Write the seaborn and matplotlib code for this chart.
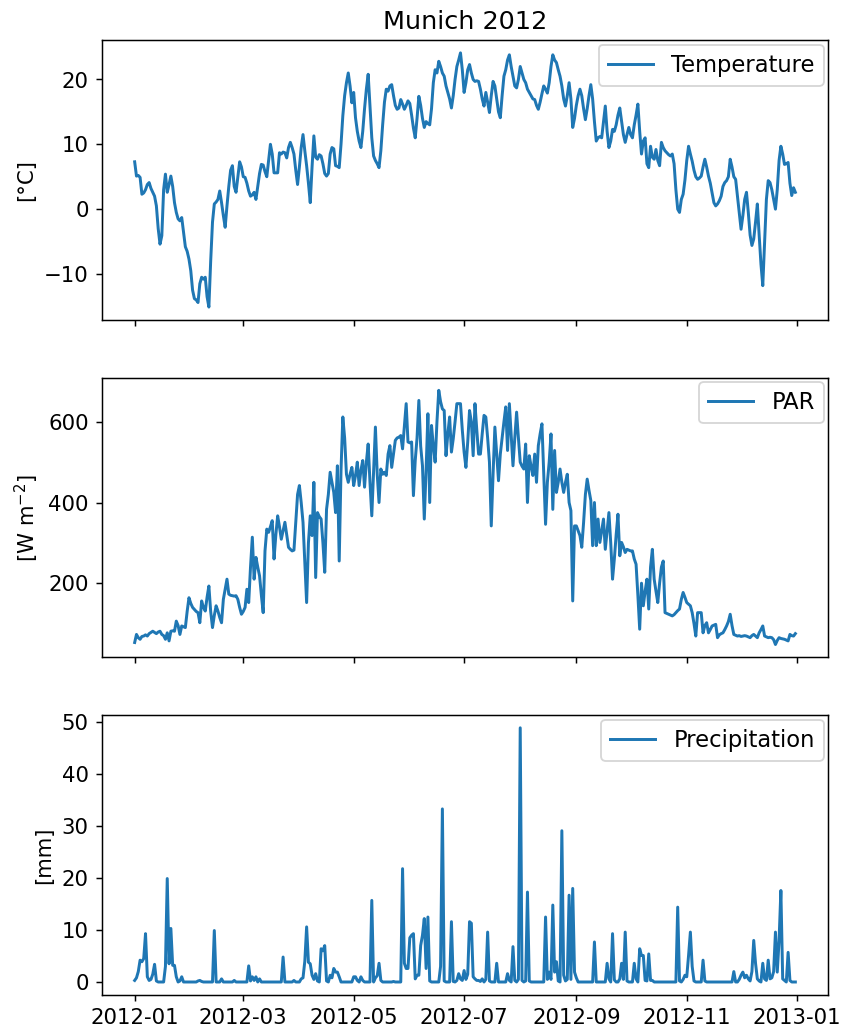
import numpy as np
import pandas as pd
import matplotlib
matplotlib.use("Agg")
import matplotlib.pyplot as plt
import matplotlib.dates as mdates
import matplotlib.ticker as mticker
import seaborn as sns

start_date = "2012-01-01"
n_days = 366

temperature = [
    7.3, 5.1, 5.2, 4.9, 2.3, 2.5, 3.0, 3.8, 4.1, 3.2,
    2.6, 2.0, 0.5, -3.0, -5.4, -4.1, 3.0, 5.4, 2.6, 3.8,
    5.1, 3.5, 1.0, -0.5, -1.5, -1.8, -1.3, -3.5, -5.8, -6.5,
    -7.7, -9.5, -12.5, -13.8, -14.0, -14.4, -11.5, -10.5, -10.8, -10.5,
    -13.5, -15.1, -8.0, -2.0, 0.8, 1.1, 1.5, 2.8, 1.0, -1.0,
    -2.8, 0.5, 3.5, 6.0, 6.7, 3.5, 2.6, 5.0, 7.3, 6.5,
    5.0, 4.9, 4.0, 2.8, 2.0, 2.2, 2.6, 1.5, 3.5, 5.5,
    6.9, 6.8, 5.8, 5.0, 7.5, 10.0, 8.5, 5.6, 5.6, 5.6,
    8.7, 8.5, 8.8, 8.7, 7.9, 9.5, 10.3, 9.5, 8.5, 6.0,
    3.8, 6.5, 9.5, 11.5, 9.0, 6.7, 4.0, 1.0, 6.5, 11.3,
    8.0, 7.7, 8.4, 8.2, 7.0, 5.5, 5.1, 5.5, 8.5, 9.5,
    9.3, 6.7, 6.6, 6.4, 10.0, 14.4, 17.5, 19.5, 21.0, 19.0,
    16.4, 18.0, 14.1, 12.0, 10.5, 9.5, 12.0, 15.5, 18.5, 20.8,
    16.0, 11.0, 8.2, 7.5, 7.0, 6.4, 9.0, 13.0, 16.5, 18.5,
    18.2, 19.0, 19.2, 17.5, 16.0, 15.4, 15.6, 16.9, 16.2, 15.4,
    16.0, 16.7, 16.3, 14.5, 12.5, 11.0, 14.0, 17.4, 16.0, 14.0,
    12.6, 13.5, 13.2, 13.0, 15.5, 19.5, 21.5, 21.0, 22.8, 22.0,
    21.0, 20.5, 19.0, 18.0, 17.0, 15.6, 17.5, 20.0, 22.0, 23.0,
    24.1, 21.5, 18.0, 19.5, 21.5, 22.3, 21.0, 20.0, 19.7, 19.8,
    19.7, 18.5, 17.0, 15.9, 18.0, 16.5, 14.9, 17.5, 19.7, 19.0,
    17.0, 15.0, 14.1, 17.5, 20.5, 21.5, 23.0, 23.8, 22.0, 20.5,
    19.0, 18.7, 20.0, 22.0, 21.0, 20.0, 19.5, 18.5, 18.0, 17.5,
    17.0, 16.9, 16.0, 15.4, 16.5, 17.8, 19.0, 18.5, 17.9, 19.5,
    22.0, 23.8, 23.0, 22.6, 21.5, 20.5, 19.0, 17.0, 15.9, 17.5,
    19.5, 17.0, 12.6, 14.0, 16.0, 17.5, 18.5, 17.5, 15.5, 13.8,
    15.5, 17.5, 19.2, 17.0, 13.5, 10.5, 11.0, 11.2, 11.0, 13.5,
    15.9, 12.0, 9.5, 10.5, 12.3, 12.0, 13.0, 14.5, 15.6, 13.5,
    11.5, 10.3, 11.5, 12.6, 11.5, 11.0, 13.0, 14.5, 16.2, 12.0,
    8.5, 10.5, 11.0, 7.0, 6.4, 9.7, 8.0, 7.7, 9.2, 7.5,
    6.7, 10.3, 9.5, 9.0, 8.7, 8.4, 8.2, 8.5, 7.0, 3.0,
    0.0, -0.5, 1.5, 2.3, 4.5, 7.5, 9.7, 8.5, 7.4, 6.0,
    5.0, 4.6, 4.8, 5.1, 6.5, 7.7, 6.5, 5.1, 4.0, 2.5,
    1.0, 0.5, 0.8, 1.3, 2.0, 3.5, 4.1, 4.4, 5.0, 7.7,
    6.5, 5.0, 4.6, 2.0, -0.5, -3.1, -1.0, 1.5, 2.6, -0.5,
    -4.0, -5.6, -4.6, -2.0, 0.8, -4.0, -8.5, -11.8, -5.0, 1.5,
    4.4, 4.1, 3.0, 1.5, 0.0, 3.0, 7.5, 9.7, 8.5, 6.9,
    7.0, 7.2, 4.0, 2.1, 3.3, 2.6,
]

par = [
    53, 73, 65, 61, 68, 69, 72, 69, 75, 78,
    81, 78, 75, 79, 81, 73, 70, 61, 77, 57,
    81, 82, 81, 106, 95, 73, 94, 92, 90, 130,
    164, 150, 140, 135, 130, 127, 102, 156, 140, 131,
    165, 193, 130, 90, 120, 144, 131, 115, 102, 160,
    185, 210, 173, 170, 169, 168, 169, 160, 140, 123,
    130, 140, 185, 152, 240, 314, 210, 264, 240, 218,
    170, 127, 280, 334, 326, 340, 355, 260, 320, 367,
    340, 309, 330, 351, 320, 289, 284, 280, 282, 350,
    420, 442, 400, 351, 250, 152, 300, 367, 318, 450,
    214, 375, 365, 359, 300, 227, 383, 420, 475, 450,
    425, 375, 491, 255, 480, 612, 560, 470, 450, 470,
    487, 442, 467, 500, 442, 480, 504, 438, 500, 545,
    450, 367, 480, 587, 470, 400, 483, 470, 475, 467,
    520, 541, 487, 520, 554, 560, 562, 566, 533, 590,
    645, 550, 548, 550, 417, 504, 560, 653, 540, 491,
    359, 480, 620, 400, 591, 540, 500, 600, 678, 650,
    632, 628, 516, 570, 612, 525, 558, 600, 645, 645,
    645, 580, 525, 487, 550, 628, 600, 516, 645, 580,
    520, 520, 570, 616, 612, 560, 500, 342, 470, 587,
    520, 454, 520, 560, 600, 637, 529, 645, 570, 491,
    560, 624, 560, 500, 490, 483, 545, 400, 516, 490,
    467, 520, 450, 541, 570, 595, 470, 346, 450, 500,
    570, 383, 529, 425, 450, 483, 450, 425, 450, 470,
    400, 380, 156, 342, 342, 330, 318, 289, 350, 420,
    458, 430, 405, 293, 400, 293, 359, 301, 330, 359,
    284, 330, 375, 300, 210, 260, 320, 371, 268, 301,
    290, 276, 284, 282, 280, 280, 260, 247, 170, 86,
    200, 144, 180, 210, 136, 240, 284, 210, 180, 152,
    200, 240, 255, 127, 125, 123, 121, 119, 122, 127,
    132, 136, 160, 177, 165, 152, 148, 144, 127, 100,
    69, 127, 127, 127, 77, 95, 102, 77, 85, 94,
    96, 98, 65, 72, 75, 77, 85, 94, 105, 123,
    95, 73, 71, 69, 70, 68, 69, 70, 69, 67,
    65, 70, 73, 69, 65, 77, 85, 94, 69, 67,
    65, 66, 65, 60, 48, 58, 65, 63, 62, 61,
    59, 57, 73, 70, 69, 75,
]

precipitation = [
    0.3, 0.8, 2.0, 4.2, 3.9, 4.5, 9.3, 1.0, 0.3, 0.5,
    1.5, 3.4, 0.2, 0, 0, 0, 0, 3.0, 19.9, 3.5,
    10.3, 3.2, 3.2, 1.0, 0, 0.2, 1.0, 0, 0, 0,
    0, 0, 0, 0, 0, 0.2, 0.3, 0.1, 0, 0,
    0, 0, 0, 0, 9.9, 0, 0, 0, 0.6, 0,
    0, 0, 0, 0, 0, 0.3, 0, 0, 0, 0,
    0, 0, 0, 3.1, 0.2, 1.0, 0.3, 1.0, 0, 0.6,
    0, 0, 0, 0, 0, 0, 0, 0, 0, 0,
    0, 0, 4.8, 0, 0, 0, 0, 0, 0.3, 0,
    0, 0, 0.6, 0.8, 4.0, 10.6, 3.8, 3.5, 1.3, 0.5,
    1.6, 0.2, 0, 6.4, 6.0, 7.0, 0.2, 0, 1.3, 0.8,
    2.6, 1.9, 1.9, 1.0, 0, 0, 0, 0, 0, 0,
    0, 1.0, 1.0, 0.3, 0, 1.0, 0.3, 0, 0, 0,
    0, 15.7, 0, 0.8, 1.2, 3.6, 0.3, 0, 0, 0,
    0, 0, 0, 0.1, 0, 0, 0, 0, 21.8, 3.6,
    2.6, 2.6, 8.5, 9.0, 9.3, 0.6, 1.3, 1.3, 7.0, 9.0,
    12.2, 2.6, 12.5, 0.2, 0, 0, 0, 0, 0, 3.0,
    33.3, 0.2, 0, 0, 0, 11.6, 0.1, 0, 0.3, 1.6,
    0.6, 0.3, 2.2, 0.5, 1.5, 11.6, 11.3, 1.0, 0.6, 0.3,
    0.3, 0.1, 0.6, 0, 0.5, 9.6, 0.2, 0, 0, 0,
    3.6, 0, 0, 0, 0, 0, 1.6, 0.3, 0, 6.8,
    0.3, 0, 0.5, 48.9, 0.3, 0, 0.2, 17.3, 0.2, 0,
    0, 0, 0, 0, 0, 0, 0, 12.5, 0.5, 1.9,
    0.5, 14.8, 1.9, 3.9, 0.2, 0, 29.1, 1.3, 0.2, 0.5,
    16.7, 0.5, 18.0, 1.9, 0.8, 0, 0, 0, 0, 0,
    0, 0, 0, 0, 7.7, 0, 0, 0, 0, 0,
    0, 3.6, 0.6, 0, 9.3, 0.4, 0, 0, 0.6, 3.6,
    0.5, 9.6, 0.2, 0, 0, 0, 3.6, 0.6, 0, 6.4,
    5.1, 5.1, 0.3, 0.2, 5.4, 0.3, 0.3, 0, 0, 0,
    0, 0, 0, 0, 0, 0, 0, 0, 0, 0,
    14.4, 0.2, 0, 0.5, 1.3, 1.0, 5.1, 9.6, 3.0, 0.2,
    0, 0, 0, 0, 4.2, 0.2, 0, 0, 0, 0,
    0, 0, 0, 0, 0, 0, 0, 0, 0, 0,
    0, 2.0, 0, 0, 0.5, 1.3, 1.9, 0.8, 1.3, 0.6,
    0.2, 2.0, 8.0, 3.6, 0.6, 0.2, 0, 3.6, 0.6, 0.3,
    4.2, 0.6, 0.8, 2.0, 9.6, 1.9, 8.0, 17.6, 0.6, 0.3,
    0, 5.7, 0.3, 0, 0, 0,
]

series_labels = ["Temperature", "PAR", "Precipitation"]
y_labels = ["[°C]", "[W m$^{-2}$]", "[mm]"]
y_tick_steps = [10, 200, 10]
title = "Munich 2012"

dates = pd.date_range(start_date, periods=n_days, freq="D")
df = pd.DataFrame({"date": dates, "Temperature": temperature,
                   "PAR": par, "Precipitation": precipitation})

plt.rcParams["font.family"] = ["DejaVu Sans"]
plt.rcParams["font.size"] = 11.5

fig, axes = plt.subplots(3, 1, sharex=True, figsize=(6.4, 7.75), dpi=133.44)
fig.subplots_adjust(left=0.119, right=0.970, top=0.961, bottom=0.038, hspace=0.207)

for ax, col, ylab, step in zip(axes, series_labels, y_labels, y_tick_steps):
    sns.lineplot(data=df, x="date", y=col, ax=ax, color="#1f77b4",
                 linewidth=1.6, label=col)
    ax.set_ylabel(ylab, fontsize=11.5)
    ax.set_xlabel("")
    ax.yaxis.set_major_locator(mticker.MultipleLocator(step))
    ax.legend(loc="upper right", fontsize=12.2, borderaxespad=0.2)

axes[0].set_title(title, fontsize=13.8)
axes[-1].xaxis.set_major_locator(mdates.MonthLocator(bymonth=[1, 3, 5, 7, 9, 11]))
axes[-1].xaxis.set_major_formatter(mdates.DateFormatter("%Y-%m"))

fig.savefig("out.png", dpi=133.44)
